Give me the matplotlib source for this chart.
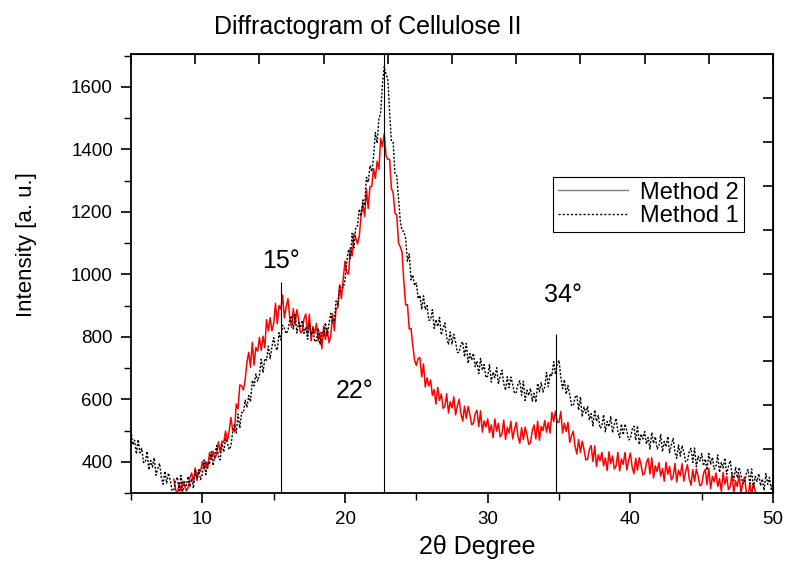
import numpy as np
import matplotlib
matplotlib.use("Agg")
import matplotlib.pyplot as plt
from matplotlib.lines import Line2D
from matplotlib.ticker import MultipleLocator

plt.rcParams['font.family'] = ['Liberation Sans', 'DejaVu Sans']

# scan grid (2theta, step 0.125 deg)
two_theta_m1 = np.arange(5.0, 50.01, 0.125)
two_theta_m2 = np.arange(8.0, 48.9, 0.125)

# Method 1 (black, dotted), 8 points per degree
intensity_m1 = [
    500, 454, 469, 425, 471, 429, 443, 398,      # 5
    398, 433, 374, 404, 383, 413, 357, 379,      # 6
    395, 351, 328, 370, 332, 364, 340, 308,      # 7
    308, 339, 351, 308, 356, 299, 336, 324,      # 8
    353, 319, 346, 315, 375, 347, 375, 343,      # 9
    360, 406, 359, 400, 391, 432, 388, 423,      # 10
    452, 418, 406, 458, 431, 474, 460, 439,      # 11
    450, 495, 521, 492, 553, 508, 558, 557,      # 12
    597, 574, 612, 592, 661, 643, 681, 658,      # 13
    678, 728, 685, 730, 725, 770, 730, 768,      # 14
    797, 766, 757, 813, 790, 837, 827, 810,      # 15
    820, 854, 868, 825, 872, 812, 846, 829,      # 16
    852, 811, 831, 792, 843, 806, 825, 784,      # 17
    788, 827, 775, 813, 803, 845, 803, 843,      # 18
    875, 850, 850, 915, 902, 960, 962, 957,      # 19
    981, 1042, 1080, 1050, 1131, 1084, 1150, 1155,   # 20
    1209, 1186, 1238, 1220, 1310, 1295, 1348, 1329,  # 21
    1376, 1454, 1420, 1497, 1519, 1611, 1665, 1640,  # 22
    1626, 1518, 1426, 1422, 1322, 1316, 1242, 1170,  # 23
    1140, 1137, 1115, 1042, 1065, 982, 998, 964,     # 24
    972, 922, 933, 887, 931, 887, 900, 853,      # 25
    854, 887, 827, 855, 833, 862, 806, 828,      # 26
    844, 798, 775, 815, 777, 808, 783, 750,      # 27
    750, 777, 784, 736, 779, 715, 746, 726,      # 28
    747, 704, 722, 682, 731, 693, 711, 669,      # 29
    674, 711, 655, 687, 669, 701, 649, 674,      # 30
    693, 650, 629, 672, 637, 671, 648, 619,      # 31
    621, 650, 659, 613, 658, 596, 629, 612,      # 32
    635, 594, 619, 590, 651, 624, 653, 623,      # 33
    640, 686, 640, 682, 675, 720, 680, 713,      # 34
    725, 670, 634, 663, 616, 644, 615, 581,      # 35
    579, 606, 613, 565, 608, 544, 575, 556,      # 36
    577, 535, 554, 515, 566, 529, 548, 507,      # 37
    513, 551, 496, 529, 512, 545, 493, 519,      # 38
    539, 497, 477, 521, 486, 521, 499, 470,      # 39
    473, 503, 514, 469, 515, 455, 489, 473,      # 40
    497, 457, 478, 441, 494, 459, 480, 441,      # 41
    449, 487, 432, 465, 448, 481, 429, 455,      # 42
    475, 432, 411, 454, 418, 452, 430, 400,      # 43
    402, 432, 443, 398, 444, 384, 418, 402,      # 44
    426, 387, 409, 373, 426, 392, 414, 376,      # 45
    385, 422, 366, 398, 380, 412, 360, 385,      # 46
    404, 361, 340, 383, 348, 382, 359, 330,      # 47
    332, 363, 375, 330, 377, 318, 353, 337,      # 48
    362, 323, 345, 308, 362, 328, 350, 312,      # 49
    333,                                         # 50
]

# Method 2 (red, solid), 8 points per degree from 8 to 48.875
intensity_m2 = [
    344, 311, 296, 332, 306, 338, 325, 307,      # 8
    317, 348, 364, 336, 380, 340, 374, 369,      # 9
    401, 377, 401, 379, 429, 409, 434, 410,      # 10
    425, 464, 430, 466, 462, 498, 467, 497,      # 11
    542, 501, 496, 585, 569, 646, 643, 630,      # 12
    662, 719, 750, 702, 782, 709, 766, 754,      # 13
    798, 757, 802, 765, 855, 819, 861, 819,      # 14
    843, 907, 842, 900, 888, 934, 860, 895,      # 15
    922, 861, 831, 890, 839, 887, 855, 813,      # 16
    817, 858, 873, 809, 872, 787, 833, 810,      # 17
    843, 786, 815, 762, 835, 791, 826, 781,      # 18
    803, 874, 820, 891, 893, 967, 922, 986,      # 19
    1042, 1006, 1001, 1085, 1059, 1129, 1118, 1097,  # 20
    1122, 1187, 1225, 1185, 1272, 1211, 1281, 1282,  # 21
    1338, 1307, 1362, 1336, 1435, 1409, 1451, 1379,  # 22
    1368, 1368, 1275, 1260, 1195, 1190, 1100, 1088,  # 23
    1070, 975, 902, 903, 825, 827, 772, 725,     # 24
    708, 731, 733, 672, 713, 639, 669, 643,      # 25
    662, 612, 631, 585, 638, 596, 617, 571,      # 26
    577, 618, 556, 592, 572, 608, 550, 579,      # 27
    600, 553, 530, 578, 539, 577, 552, 519,      # 28
    523, 554, 565, 513, 563, 495, 531, 511,      # 29
    537, 493, 518, 477, 537, 498, 523, 480,      # 30
    490, 533, 472, 510, 492, 530, 473, 503,      # 31
    526, 481, 459, 509, 471, 511, 487, 456,      # 32
    461, 499, 518, 473, 530, 469, 513, 500,      # 33
    532, 495, 526, 492, 558, 528, 562, 526,      # 34
    527, 561, 492, 523, 497, 526, 462, 483,      # 35
    498, 449, 425, 471, 430, 466, 440, 406,      # 36
    408, 440, 452, 401, 451, 385, 422, 403,      # 37
    430, 387, 412, 372, 432, 394, 419, 377,      # 38
    387, 430, 371, 409, 392, 430, 374, 405,      # 39
    428, 383, 362, 411, 373, 413, 390, 358,      # 40
    363, 397, 411, 361, 413, 348, 387, 369,      # 41
    397, 354, 379, 338, 398, 360, 385, 342,      # 42
    352, 395, 335, 373, 355, 394, 338, 368,      # 43
    391, 346, 325, 375, 337, 377, 354, 323,      # 44
    328, 362, 376, 327, 379, 314, 353, 336,      # 45
    364, 321, 346, 306, 366, 328, 353, 311,      # 46
    320, 362, 302, 339, 321, 358, 301, 330,      # 47
    351, 305, 283, 332, 293, 331, 306, 272,      # 48
]

# peak markers: position, top of line, label, label position
peak_pos = [15.5, 22.7, 34.8]
peak_top = [975, 1705, 810]
peak_labels = ['15°', '22°', '34°']
label_xy = [(15.5, 1042), (20.7, 625), (35.3, 933)]

fig = plt.figure(figsize=(7.86, 5.61), dpi=100)
ax = fig.add_axes([0.1667, 0.1212, 0.8168, 0.7825])

ax.plot(two_theta_m2, intensity_m2, color='red', lw=1.1)
ax.plot(two_theta_m1, intensity_m1, color='black', lw=1.0, ls=(0, (1.5, 1.2)))

ax.vlines(peak_pos, 300, peak_top, color='black', lw=0.8)
for lab, (lx, ly) in zip(peak_labels, label_xy):
    ax.text(lx, ly, lab, ha='center', va='center', fontsize=18)

ax.set_xlim(5, 50)
ax.set_ylim(300, 1705)
ax.xaxis.set_major_locator(MultipleLocator(10))
ax.xaxis.set_minor_locator(MultipleLocator(5))
ax.yaxis.set_major_locator(MultipleLocator(200))
ax.yaxis.set_minor_locator(MultipleLocator(100))
ax.tick_params(which='major', direction='out', length=7, width=1.2, labelsize=13.5, pad=6)
ax.tick_params(which='minor', direction='out', length=5, width=1.0)
for s in ax.spines.values():
    s.set_linewidth(1.3)

# mirrored axes with inward ticks
top = ax.secondary_xaxis('top')
top.set_xticks(np.linspace(5, 50, 11))
top.set_xticklabels([])
top.tick_params(direction='in', length=7, width=1.2)
right = ax.secondary_yaxis('right')
right.set_yticks(np.linspace(300, 1705, 11))
right.set_yticklabels([])
right.tick_params(direction='in', length=7, width=1.2)

ax.set_xlabel('2θ Degree', fontsize=18)
ax.xaxis.set_label_coords(0.539, -0.095)
ax.set_ylabel('Intensity [a. u.]', fontsize=16)
ax.yaxis.set_label_coords(-0.146, 0.565)
fig.text(368 / 786, 1 - 27 / 561, 'Diffractogram of Cellulose II', ha='center', va='center', fontsize=18)

handles = [Line2D([], [], color='gray', lw=1.0),
           Line2D([], [], color='black', lw=1.0, ls=(0, (1.5, 1.5)))]
leg = ax.legend(handles, ['Method 2', 'Method 1'], loc='upper left',
                bbox_to_anchor=(0.657, 0.72), borderaxespad=0, fontsize=17,
                fancybox=False, edgecolor='black', framealpha=1, handlelength=3.0,
                borderpad=0.2, labelspacing=0.05, handletextpad=0.5)
leg.get_frame().set_linewidth(0.8)

fig.savefig('out.png', dpi=100)
